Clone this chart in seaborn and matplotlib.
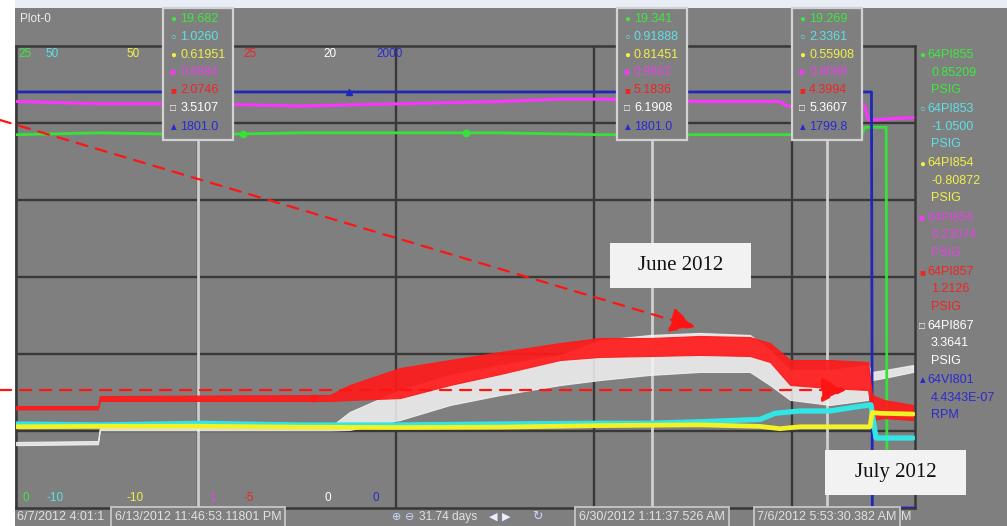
import numpy as np
import pandas as pd
import matplotlib
matplotlib.use("Agg")
import matplotlib.pyplot as plt
import matplotlib.dates as mdates
import matplotlib.transforms as mtransforms
from matplotlib.patches import Rectangle
import seaborn as sns

# ---- values ----
start = pd.Timestamp("2012-06-07 04:01:10")
view_days = (0.38, 32.19)

tags = ["64PI855", "64PI853", "64PI854", "64PI856", "64PI857", "64PI867", "64VI801"]
units = ["PSIG", "PSIG", "PSIG", "PSIG", "PSIG", "PSIG", "RPM"]
scale_lo = [0, -10, -10, -1, -5, 0, 0]
scale_hi = [25, 50, 50, 1, 25, 20, 2000]
top_labels = ["25", "50", "50", "", "25", "20", "2000"]
bottom_labels = ["0", "-10", "-10", "1", "-5", "0", "0"]
end_values = ["0.85209", "-1.0500", "-0.80872", "0.23074", "1.2126", "3.3641", "4.4343E-07"]

cursor_times = ["2012-06-13 23:46:53.118", "2012-06-30 01:11:37.526", "2012-07-06 05:53:30.382"]
cursor_labels = ["6/13/2012 11:46:53.11801 PM", "6/30/2012 1:11:37.526 AM", "7/6/2012 5:53:30.382 AM"]
cursor_values = [
    ["19.682", "1.0260", "0.61951", "0.8884", "2.0746", "3.5107", "1801.0"],
    ["19.341", "0.91888", "0.81451", "0.9862", "5.1836", "6.1908", "1801.0"],
    ["19.269", "2.3361", "0.55908", "0.8088", "4.3994", "5.3607", "1799.8"],
]

# line traces: days since start, engineering units
green_days = [0.38, 3.35, 6.89, 10.43, 13.97, 17.51, 21.04, 24.58, 27.66, 30.31, 30.42, 31.17, 31.20, 32.19]
green_vals = [20.2, 20.3, 20.2, 20.3, 20.3, 20.3, 20.2, 20.2, 20.2, 20.2, 20.6, 20.6, 0.9, 0.85]

cyan_days = [0.38, 3.35, 6.89, 10.43, 13.97, 17.51, 21.04, 22.81, 24.58, 26.70, 27.24, 28.12, 29.18, 30.24, 30.63, 30.81, 32.12]
cyan_vals = [0.91, 0.78, 1.0, 0.78, 0.78, 0.91, 1.0, 1.0, 1.2, 1.5, 2.3, 2.6, 2.6, 3.2, 3.4, -0.91, -0.91]

yellow_days = [0.38, 3.35, 6.89, 10.43, 13.97, 17.51, 21.04, 24.58, 26.70, 27.41, 28.12, 30.60, 30.67, 30.95, 32.12]
yellow_vals = [0.55, 0.6, 0.62, 0.5, 0.45, 0.5, 0.7, 0.8, 0.6, 0.3, 0.55, 0.55, 2.4, 2.3, 2.2]

magenta_days = [0.38, 3.35, 6.89, 10.43, 13.97, 17.51, 19.63, 21.04, 24.58, 27.41, 27.66, 30.42, 30.53, 32.12]
magenta_vals = [0.76, 0.75, 0.75, 0.74, 0.75, 0.76, 0.77, 0.77, 0.76, 0.76, 0.74, 0.74, 0.68, 0.69]

blue_days = [0.38, 30.65, 30.68, 32.19]
blue_vals = [1801, 1801, 0, 0]

# noisy traces as envelopes (low / high edge)
band_days = [0.38, 3.28, 3.35, 11.49, 12.19, 13.97, 15.74, 17.51, 19.63, 21.04,
             22.81, 24.58, 26.35, 27.06, 27.77, 29.18, 30.53, 30.67, 31.1, 32.12]
red_hi = [1.62, 1.62, 2.27, 2.34, 2.99, 4.09, 4.61, 5.13, 5.71, 6.04,
          6.04, 6.17, 6.10, 5.71, 4.61, 4.61, 4.48, 2.34, 2.01, 1.69]
red_lo = [1.40, 1.40, 1.95, 1.95, 2.01, 2.14, 2.99, 3.70, 4.61, 4.81,
          4.87, 4.94, 4.87, 4.48, 2.99, 2.79, 2.66, 0.71, 0.84, 0.71]
white_hi = [2.86, 2.90, 3.50, 3.50, 4.16, 5.11, 5.76, 6.19, 6.62, 7.27,
            7.49, 7.58, 7.49, 6.84, 5.97, 5.97, 6.19, 5.89, 5.97, 6.19]
white_lo = [2.72, 2.76, 3.36, 3.36, 3.38, 3.81, 4.46, 4.89, 5.32, 5.54,
            5.76, 5.89, 5.89, 5.32, 4.68, 4.46, 4.68, 5.54, 5.63, 5.89]

# trace markers
marker_tags = ["64PI855", "64PI855", "64VI801", "64PI857"]
marker_days = [8.41, 16.3, 12.16, 10.9]

# annotation targets (day, PSIG on the 64PI857 scale)
arrow_days = [24.41, 29.75]
arrow_vals = [6.75, 2.66]

colors = ["#36e236", "#33e6e6", "#f2f224", "#ff33ff", "#ff1a1a", "#f4f4f4", "#1f28b8"]
text_colors = ["#3ee83e", "#5ee0e6", "#f0f04a", "#e444e4", "#f02424", "#ffffff", "#2a2ad0"]
glyphs = ["\u25cf", "\u25cb", "\u25cf", "\u25c6", "\u25a0", "\u25a1", "\u25b2"]
GRAY = "#7f7f7f"
GRID = "#383838"
CURSOR = "#cfcfcf"


def norm(vals, i):
    v = np.asarray(vals, dtype=float)
    return (v - scale_lo[i]) / (scale_hi[i] - scale_lo[i])


def to_time(days):
    return start + pd.to_timedelta(np.asarray(days, dtype=float), unit="D")


sns.set_style("dark", {"axes.facecolor": GRAY})
plt.rcParams["font.family"] = ["Liberation Sans", "DejaVu Sans"]

W, H = 1007, 526
fig = plt.figure(figsize=(W / 100, H / 100), dpi=100, facecolor="white")
fig.add_artist(Rectangle((15 / W, 0), 1 - 15 / W, 1 - 8 / H, transform=fig.transFigure,
                         fc=GRAY, ec="none", zorder=-10))
fig.add_artist(Rectangle((15 / W, 1 - 8 / H), 1 - 15 / W, 8 / H, transform=fig.transFigure,
                         fc="#e9edf6", ec="none", zorder=-10))
ax = fig.add_axes([16 / W, 18 / H, 899 / W, 462 / H])
ax.set_facecolor(GRAY)

# grid: weekly time lines, 6 vertical divisions
ax.set_xlim(to_time([view_days[0]])[0], to_time([view_days[1]])[0])
ax.set_ylim(0, 1)
ax.set_xticks(pd.date_range("2012-06-14", periods=4, freq="7D"))
ax.set_yticks(np.linspace(0, 1, 7)[1:-1])
ax.grid(True, color=GRID, lw=1.7)
ax.tick_params(length=0, labelbottom=False, labelleft=False)
for s in ax.spines.values():
    s.set_color(GRID)
    s.set_linewidth(1.8)
ax.set_xlabel("")
ax.set_ylabel("")

# cursors
cur_num = [mdates.date2num(pd.Timestamp(t).to_pydatetime()) for t in cursor_times]
for cx in cur_num:
    ax.axvline(cx, color=CURSOR, lw=2, zorder=2)

# envelopes of the noisy traces
bt = to_time(band_days)
ax.fill_between(bt, norm(white_lo, 5), norm(white_hi, 5), color=colors[5], alpha=0.85, lw=0.8, zorder=3)
ax.fill_between(bt, norm(red_lo, 4), norm(red_hi, 4), color=colors[4], alpha=0.92, lw=0.8, zorder=4)

# line traces
line_data = [(0, green_days, green_vals, 2.0, 3), (3, magenta_days, magenta_vals, 2.2, 3),
             (6, blue_days, blue_vals, 2.0, 3), (1, cyan_days, cyan_vals, 3.8, 5),
             (2, yellow_days, yellow_vals, 3.4, 6)]
for i, d, v, lw, z in line_data:
    sns.lineplot(x=to_time(d), y=norm(v, i), color=colors[i], lw=lw, ax=ax,
                 estimator=None, sort=False, zorder=z)

trace_lookup = {0: (green_days, green_vals), 6: (blue_days, blue_vals),
                4: (band_days, (np.array(red_hi) + np.array(red_lo)) / 2)}
mk = {0: "o", 6: "^", 4: "s"}
for tg, d in zip(marker_tags, marker_days):
    i = tags.index(tg)
    dd, vv = trace_lookup[i]
    val = np.interp(d, dd, vv)
    ax.plot(to_time([d]), norm([val], i), marker=mk[i], color=colors[i], ms=4.5, ls="none", zorder=7)

# scale labels top and bottom
top_x = [25, 52, 133, 200, 250, 330, 390]
bot_x = [26, 55, 135, 212, 249, 328, 376]
for i in range(len(tags)):
    ax.text((top_x[i] - 16) / 899, (508 - 54) / 462, top_labels[i], color=text_colors[i],
            fontsize=8.5, ha="center", va="center", transform=ax.transAxes, zorder=8)
    ax.text((bot_x[i] - 16) / 899, (508 - 498) / 462, bottom_labels[i], color=text_colors[i],
            fontsize=8.5, ha="center", va="center", transform=ax.transAxes, zorder=8)

# cursor value boxes
blend = mtransforms.blended_transform_factory(ax.transData, fig.transFigure)
half_w = 35 / 899 * (view_days[1] - view_days[0])
row_y = [19, 37, 55, 72, 90, 108, 127]
for cx, vals, stamp in zip(cur_num, cursor_values, cursor_labels):
    ax.add_patch(Rectangle((cx - half_w, 1 - 140 / H), 2 * half_w, 132 / H, transform=blend,
                           fc=GRAY, ec="#d2d2d2", lw=1.6, clip_on=False, zorder=20))
    for i, val in enumerate(vals):
        yy = 1 - row_y[i] / H
        ax.annotate(glyphs[i], xy=(cx, yy), xycoords=blend, xytext=(-25, 0),
                    textcoords="offset pixels", ha="center", va="center", fontsize=7,
                    color=text_colors[i], annotation_clip=False, zorder=21)
        ax.annotate(val, xy=(cx, yy), xycoords=blend, xytext=(-18, 0),
                    textcoords="offset pixels", ha="left", va="center", fontsize=9,
                    color=text_colors[i], annotation_clip=False, zorder=21)
    # timestamp under the cursor
    ax.annotate(stamp, xy=(cx, 1 - 517 / H), xycoords=blend,
                ha="center", va="center", fontsize=9, color="#e2e2e2", annotation_clip=False,
                zorder=22, bbox=dict(boxstyle="square,pad=0.3", fc=GRAY, ec="#cdcdcd", lw=1.2))

# bottom status row: visible parts of the start/end stamps beside the cursor stamps
fig.text(17 / W, 1 - 517 / H, "6/7/2012 4:01:1", fontsize=9, color="#e2e2e2",
         ha="left", va="center")
fig.text(901 / W, 1 - 517 / H, "M", fontsize=9, color="#e2e2e2", ha="left", va="center")
fig.text(397 / W, 1 - 517 / H, "\u2295", fontsize=8, color="#c8d8ff", ha="center", va="center")
fig.text(410 / W, 1 - 517 / H, "\u2296", fontsize=8, color="#c8d8ff", ha="center", va="center")
fig.text(419 / W, 1 - 517 / H, "31.74 days", fontsize=8.6, color="#e2e2e2", ha="left", va="center")
fig.text(493 / W, 1 - 517 / H, "\u25c0", fontsize=8, color="#e8eeff", ha="center", va="center")
fig.text(506 / W, 1 - 517 / H, "\u25b6", fontsize=8, color="#e8eeff", ha="center", va="center")
fig.text(537 / W, 1 - 517 / H, "\u21bb", fontsize=9, color="#c8d8ff", ha="center", va="center")
fig.text(20 / W, 1 - 19 / H, "Plot-0", fontsize=8.5, color="#ececec", ha="left", va="center")

# right-hand tag legend
for i, tg in enumerate(tags):
    y0 = 55 + i * 54.2
    fig.text(922 / W, 1 - y0 / H, glyphs[i], fontsize=7, color=text_colors[i], ha="center", va="center")
    fig.text(927 / W, 1 - y0 / H, tg, fontsize=9, color=text_colors[i], ha="left", va="center")
    fig.text(931 / W, 1 - (y0 + 17.5) / H, end_values[i], fontsize=9, color=text_colors[i],
             ha="left", va="center")
    fig.text(931 / W, 1 - (y0 + 35) / H, units[i], fontsize=9, color=text_colors[i],
             ha="left", va="center")

# red dashed call-out arrows
arrow_start = [(0, 1 - 120 / H), (0, 1 - 390 / H)]
for d, v, st in zip(arrow_days, arrow_vals, arrow_start):
    ax.annotate("", xy=(to_time([d])[0], norm([v], 4)[0]), xycoords="data",
                xytext=st, textcoords="figure fraction", annotation_clip=False, zorder=30,
                arrowprops=dict(arrowstyle="-|>,head_length=1.1,head_width=0.55", color="#ff1414",
                                lw=1.6, linestyle=(0, (5, 4)), mutation_scale=14,
                                shrinkA=0, shrinkB=0))

# month call-out boxes
for label, x0, y0 in [("June 2012", 610, 288), ("July 2012", 825, 495)]:
    fig.add_artist(Rectangle((x0 / W, 1 - y0 / H), 141 / W, 45 / H, transform=fig.transFigure,
                             fc="#f2f2f2", ec="none", zorder=40))
    fig.text((x0 + 70.5) / W, 1 - (y0 - 22.5) / H, label, fontsize=15, color="#111111",
             family="Liberation Serif", ha="center", va="center", zorder=41)

fig.savefig("out.png", dpi=100, facecolor=fig.get_facecolor())
